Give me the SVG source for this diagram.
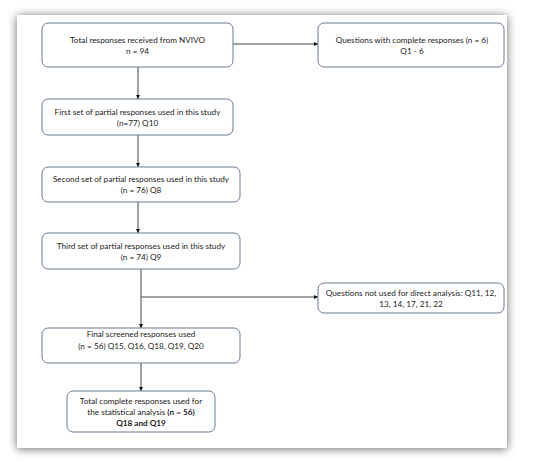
<svg xmlns="http://www.w3.org/2000/svg" width="550" height="462" viewBox="0 0 550 462">
<defs>
<filter id="sh" x="-10%" y="-10%" width="120%" height="120%">
<feGaussianBlur in="SourceAlpha" stdDeviation="5"/>
<feOffset dx="0" dy="1" result="b"/>
<feComponentTransfer><feFuncA type="linear" slope="0.6"/></feComponentTransfer>
<feMerge><feMergeNode/><feMergeNode in="SourceGraphic"/></feMerge>
</filter>
<marker id="ah" viewBox="0 0 10 10" refX="10" refY="5" markerWidth="4" markerHeight="4" orient="auto" markerUnits="userSpaceOnUse">
<path d="M0,0 L10,5 L0,10 z" fill="#111"/>
</marker>
<style>
.box{fill:#fff;stroke:#6b7a93;stroke-width:1}
.t{font-family:Lato,"Liberation Sans",sans-serif;font-size:8.2px;fill:#222;text-anchor:middle}
.b{font-weight:bold}
.c{stroke:#444;stroke-width:1;fill:none}
</style>
</defs>
<rect width="550" height="462" fill="#fff"/>
<rect x="17" y="15" width="490" height="433" fill="#fff" filter="url(#sh)"/>
<g id="connectors">
<path class="c" d="M233,44 H318" marker-end="url(#ah)"/>
<path class="c" d="M138,67 V99" marker-end="url(#ah)"/>
<path class="c" d="M138,135 V167" marker-end="url(#ah)"/>
<path class="c" d="M138,202 V233" marker-end="url(#ah)"/>
<path class="c" d="M141,269 V328" marker-end="url(#ah)"/>
<path class="c" d="M141,297 H318" marker-end="url(#ah)"/>
<path class="c" d="M141,363 V391" marker-end="url(#ah)"/>
</g>
<g id="n1"><rect class="box" x="42" y="23" width="191" height="44" rx="6"/>
<text class="t" x="137.5" y="43">Total responses received from NVIVO</text>
<text class="t" x="137.5" y="54">n = 94</text></g>
<g id="n2"><rect class="box" x="318" y="23" width="186" height="44" rx="6"/>
<text class="t" x="412" y="43">Questions with complete responses (n = 6)</text>
<text class="t" x="412" y="54">Q1 - 6</text></g>
<g id="n3"><rect class="box" x="42" y="99" width="191" height="36" rx="6"/>
<text class="t" x="137.5" y="115">First set of partial responses used in this study</text>
<text class="t" x="137.5" y="126">(n=77) Q10</text></g>
<g id="n4"><rect class="box" x="42" y="167" width="198" height="35" rx="6"/>
<text class="t" x="141" y="182">Second set of partial responses used in this study</text>
<text class="t" x="141" y="193">(n = 76) Q8</text></g>
<g id="n5"><rect class="box" x="42" y="233" width="198" height="36" rx="6"/>
<text class="t" x="141" y="249">Third set of partial responses used in this study</text>
<text class="t" x="141" y="260">(n = 74) Q9</text></g>
<g id="n6"><rect class="box" x="318" y="283" width="186" height="30" rx="6"/>
<text class="t" x="411" y="296">Questions not used for direct analysis: Q11, 12,</text>
<text class="t" x="411" y="307">13, 14, 17, 21, 22</text></g>
<g id="n7"><rect class="box" x="42" y="328" width="198" height="35" rx="6"/>
<text class="t" x="141" y="337">Final screened responses used</text>
<text class="t" x="141" y="349">(n = 56) Q15, Q16, Q18, Q19, Q20</text></g>
<g id="n8"><rect class="box" x="67" y="391" width="148" height="41" rx="6"/>
<text class="t" x="141" y="404">Total complete responses used for</text>
<text class="t" x="141" y="415">the statistical analysis <tspan class="b">(n = 56)</tspan></text>
<text class="t b" x="141" y="426">Q18 and Q19</text></g>
</svg>
